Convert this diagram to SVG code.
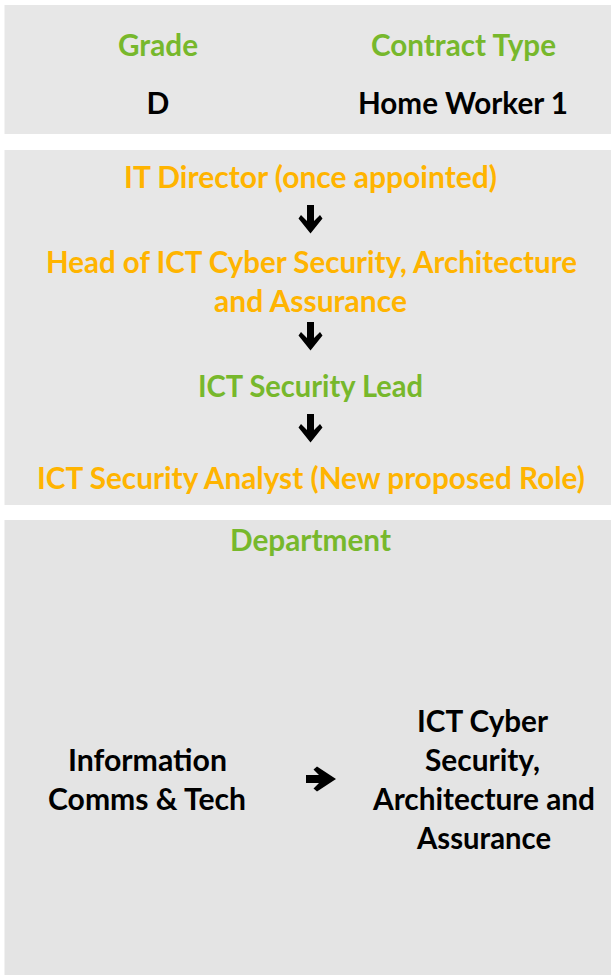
<svg xmlns="http://www.w3.org/2000/svg" xmlns:xlink="http://www.w3.org/1999/xlink" width="611" height="975" viewBox="0 0 611 975">
<style>
  .panel { fill: #e7e7e7; }
  .panel3 { fill: #e4e4e4; }
  text { font-family: Lato, "Open Sans", "DejaVu Sans", sans-serif; font-weight: 700; font-size: 30px; text-anchor: middle; }
  .green { fill: #77b82c; }
  .orange { fill: #ffb400; }
  .black { fill: #000000; }
  .arrow { fill: #000000; }
</style>
<defs>
  <polygon id="down" points="-3.5,0 3.5,0 3.5,16 9.5,10 12,13.5 0,28.5 -12,13.5 -9.5,10 -3.5,16"/>
  <polygon id="right" points="0,-4 13,-4 7.5,-9.5 11,-12.5 30,0 11,12.5 7.5,9.5 13,4 0,4"/>
</defs>
<rect width="611" height="975" fill="#ffffff"/>

<g id="panel-grade-contract">
  <rect class="panel" x="4.5" y="5" width="606.5" height="129"/>
  <g id="grade">
    <text class="green" x="158" y="56" textLength="80" lengthAdjust="spacingAndGlyphs">Grade</text>
    <text class="black" x="158" y="114">D</text>
  </g>
  <g id="contract-type">
    <text class="green" x="463.5" y="56" textLength="185" lengthAdjust="spacingAndGlyphs">Contract Type</text>
    <text class="black" x="463" y="114" textLength="210" lengthAdjust="spacingAndGlyphs">Home Worker 1</text>
  </g>
</g>

<g id="panel-hierarchy">
  <rect class="panel" x="4.5" y="150" width="606.5" height="355"/>
  <g id="it-director">
    <text class="orange" x="310.5" y="188" textLength="373" lengthAdjust="spacingAndGlyphs">IT Director (once appointed)</text>
  </g>
  <g id="head-of-ict">
    <text class="orange" x="311.5" y="273" textLength="531" lengthAdjust="spacingAndGlyphs">Head of ICT Cyber Security, Architecture</text>
    <text class="orange" x="310.5" y="312" textLength="193" lengthAdjust="spacingAndGlyphs">and Assurance</text>
  </g>
  <g id="security-lead">
    <text class="green" x="310.5" y="397" textLength="225" lengthAdjust="spacingAndGlyphs">ICT Security Lead</text>
  </g>
  <g id="security-analyst">
    <text class="orange" x="311" y="489" textLength="548" lengthAdjust="spacingAndGlyphs">ICT Security Analyst (New proposed Role)</text>
  </g>
</g>

<g id="panel-department">
  <rect class="panel3" x="4.5" y="520" width="606.5" height="455"/>
  <g id="department-title">
    <text class="green" x="310.5" y="551" textLength="161" lengthAdjust="spacingAndGlyphs">Department</text>
  </g>
  <g id="dept-ict">
    <text class="black" x="147.5" y="771" textLength="159" lengthAdjust="spacingAndGlyphs">Information</text>
    <text class="black" x="147" y="810" textLength="198" lengthAdjust="spacingAndGlyphs">Comms &amp; Tech</text>
  </g>
  <g id="dept-cyber">
    <text class="black" x="482.5" y="732" textLength="131" lengthAdjust="spacingAndGlyphs">ICT Cyber</text>
    <text class="black" x="482.5" y="771" textLength="115" lengthAdjust="spacingAndGlyphs">Security,</text>
    <text class="black" x="484" y="810" textLength="222" lengthAdjust="spacingAndGlyphs">Architecture and</text>
    <text class="black" x="484" y="849" textLength="134" lengthAdjust="spacingAndGlyphs">Assurance</text>
  </g>
</g>

<g id="connectors">
  <use class="arrow" href="#down" xlink:href="#down" x="310.5" y="205"/>
  <use class="arrow" href="#down" xlink:href="#down" x="310.5" y="322"/>
  <use class="arrow" href="#down" xlink:href="#down" x="310.5" y="414"/>
  <use class="arrow" href="#right" xlink:href="#right" x="306" y="779"/>
</g>
</svg>
